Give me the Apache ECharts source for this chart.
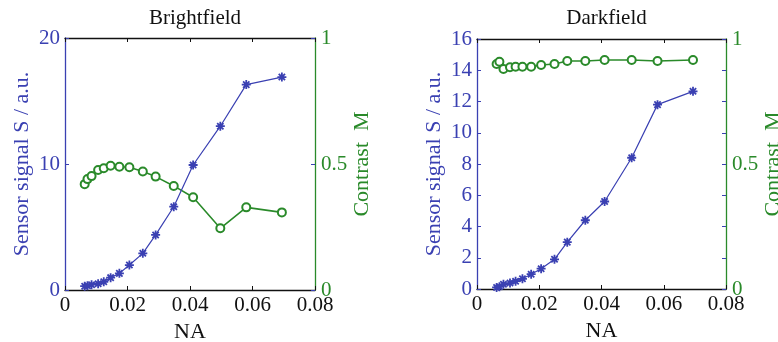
<!DOCTYPE html>
<html>
<head>
<meta charset="utf-8">
<script src="https://cdn.jsdelivr.net/npm/echarts@6/dist/echarts.min.js"></script>
<style>
html,body{margin:0;padding:0;background:#fff;}
#c{width:778px;height:342px;}
</style>
</head>
<body>
<div id="c"></div>
<script>
// ---- data ----
const na = [0.0063, 0.0072, 0.0085, 0.0106, 0.0124, 0.0146, 0.0174, 0.0206, 0.0249, 0.029, 0.0348, 0.041, 0.0497, 0.058, 0.0694];
const brightS = [0.3, 0.34, 0.42, 0.5, 0.65, 0.98, 1.32, 1.98, 2.91, 4.37, 6.61, 9.92, 13.0, 16.3, 16.9];
const brightM = [0.42, 0.44, 0.452, 0.476, 0.483, 0.493, 0.489, 0.487, 0.47, 0.45, 0.413, 0.368, 0.245, 0.328, 0.308];
const darkS = [0.1, 0.15, 0.3, 0.38, 0.5, 0.65, 0.95, 1.3, 1.9, 3.0, 4.4, 5.6, 8.4, 11.8, 12.65];
const darkM = [0.900, 0.909, 0.880, 0.887, 0.889, 0.889, 0.889, 0.896, 0.900, 0.912, 0.912, 0.916, 0.916, 0.912, 0.916];
const titles = ['Brightfield', 'Darkfield'];
const xName = 'NA';
const leftName = 'Sensor signal S / a.u.';
const rightName = 'Contrast  M';

// ---- styling ----
const BLUE = '#3a40b2';
const GREEN = '#2a8a2a';
const FONT = '"Liberation Serif", "DejaVu Serif", serif';
const starPath = 'path://M-1,-5L1,-5L1,5L-1,5Z M-5,-1L5,-1L5,1L-5,1Z M-2.8,-4.2L4.2,2.8L2.8,4.2L-4.2,-2.8Z M2.8,-4.2L4.2,-2.8L-2.8,4.2L-4.2,2.8Z';

const grids = [
  {left: 65, right: 463, top: 38, bottom: 52, containLabel: false, outerBoundsMode: 'none'},
  {left: 477, right: 52, top: 39, bottom: 53, containLabel: false, outerBoundsMode: 'none'}
];
const sScale = [{max: 20, interval: 10}, {max: 16, interval: 2}];

const pair = (xs, ys) => xs.map((x, i) => [x, ys[i]]);

const xAxes = [], yAxes = [], series = [], title = [];
grids.forEach((g, k) => {
  title.push({
    text: titles[k], left: g.left + (778 - g.left - g.right) / 2, top: 3, textAlign: 'center',
    textStyle: {fontFamily: FONT, fontSize: 21, fontWeight: 'normal', color: '#111'}
  });
  // bottom x axis
  xAxes.push({
    gridIndex: k, type: 'value', min: 0, max: 0.08, interval: 0.02, position: 'bottom',
    name: xName, nameLocation: 'middle', nameGap: 28,
    nameTextStyle: {fontFamily: FONT, fontSize: 22, color: '#111'},
    axisLine: {show: true, onZero: false, lineStyle: {color: '#111', width: 1.3}},
    axisTick: {show: true, inside: true, length: 4, lineStyle: {color: '#111'}},
    axisLabel: {fontFamily: FONT, fontSize: 21, color: '#111', margin: 5,
      formatter: v => v === 0 ? '0' : v.toFixed(2)},
    splitLine: {show: false}
  });
  // top x axis (box)
  xAxes.push({
    gridIndex: k, type: 'value', min: 0, max: 0.08, interval: 0.02, position: 'top',
    axisLine: {show: true, onZero: false, lineStyle: {color: '#111', width: 1.3}},
    axisTick: {show: true, inside: true, length: 4, lineStyle: {color: '#111'}},
    axisLabel: {show: false}, splitLine: {show: false}
  });
  // left S axis
  yAxes.push({
    gridIndex: k, type: 'value', min: 0, max: sScale[k].max, interval: sScale[k].interval, position: 'left',
    name: leftName, nameLocation: 'middle', nameGap: 32, nameRotate: 90,
    nameTextStyle: {fontFamily: FONT, fontSize: 22, color: BLUE},
    axisLine: {show: true, onZero: false, lineStyle: {color: BLUE, width: 1.3}},
    axisTick: {show: true, inside: true, length: 4, lineStyle: {color: BLUE}},
    axisLabel: {fontFamily: FONT, fontSize: 21, color: BLUE, margin: 5},
    splitLine: {show: false}
  });
  // right M axis
  yAxes.push({
    gridIndex: k, type: 'value', min: 0, max: 1, interval: 0.5, position: 'right',
    name: rightName, nameLocation: 'middle', nameGap: 35, nameRotate: 90,
    nameTextStyle: {fontFamily: FONT, fontSize: 22, color: GREEN},
    axisLine: {show: true, onZero: false, lineStyle: {color: GREEN, width: 1.3}},
    axisTick: {show: true, inside: true, length: 4, lineStyle: {color: GREEN}},
    axisLabel: {fontFamily: FONT, fontSize: 21, color: GREEN, margin: 6,
      formatter: v => String(v)},
    splitLine: {show: false}
  });
  // mirrored S ticks on the right (box)
  yAxes.push({
    gridIndex: k, type: 'value', min: 0, max: sScale[k].max, interval: sScale[k].interval, position: 'right',
    axisLine: {show: false, onZero: false},
    axisTick: {show: true, inside: true, length: 4, lineStyle: {color: BLUE}},
    axisLabel: {show: false}, splitLine: {show: false}
  });
});

const sets = [[brightS, brightM], [darkS, darkM]];
sets.forEach((s, k) => {
  series.push({
    type: 'line', xAxisIndex: k * 2, yAxisIndex: k * 3, data: pair(na, s[0]),
    symbol: starPath, symbolSize: 9, showSymbol: true,
    lineStyle: {color: BLUE, width: 1.2}, itemStyle: {color: BLUE}, animation: false, z: 3
  });
  series.push({
    type: 'line', xAxisIndex: k * 2, yAxisIndex: k * 3 + 1, data: pair(na, s[1]),
    symbol: 'emptyCircle', symbolSize: 8, showSymbol: true,
    lineStyle: {color: GREEN, width: 1.6}, itemStyle: {color: GREEN, borderColor: GREEN, borderWidth: 1.4},
    animation: false, z: 2
  });
});

const chart = echarts.init(document.getElementById('c'));
chart.setOption({
  backgroundColor: '#fff',
  animation: false,
  title: title,
  grid: grids,
  xAxis: xAxes,
  yAxis: yAxes,
  series: series
});
</script>
</body>
</html>
